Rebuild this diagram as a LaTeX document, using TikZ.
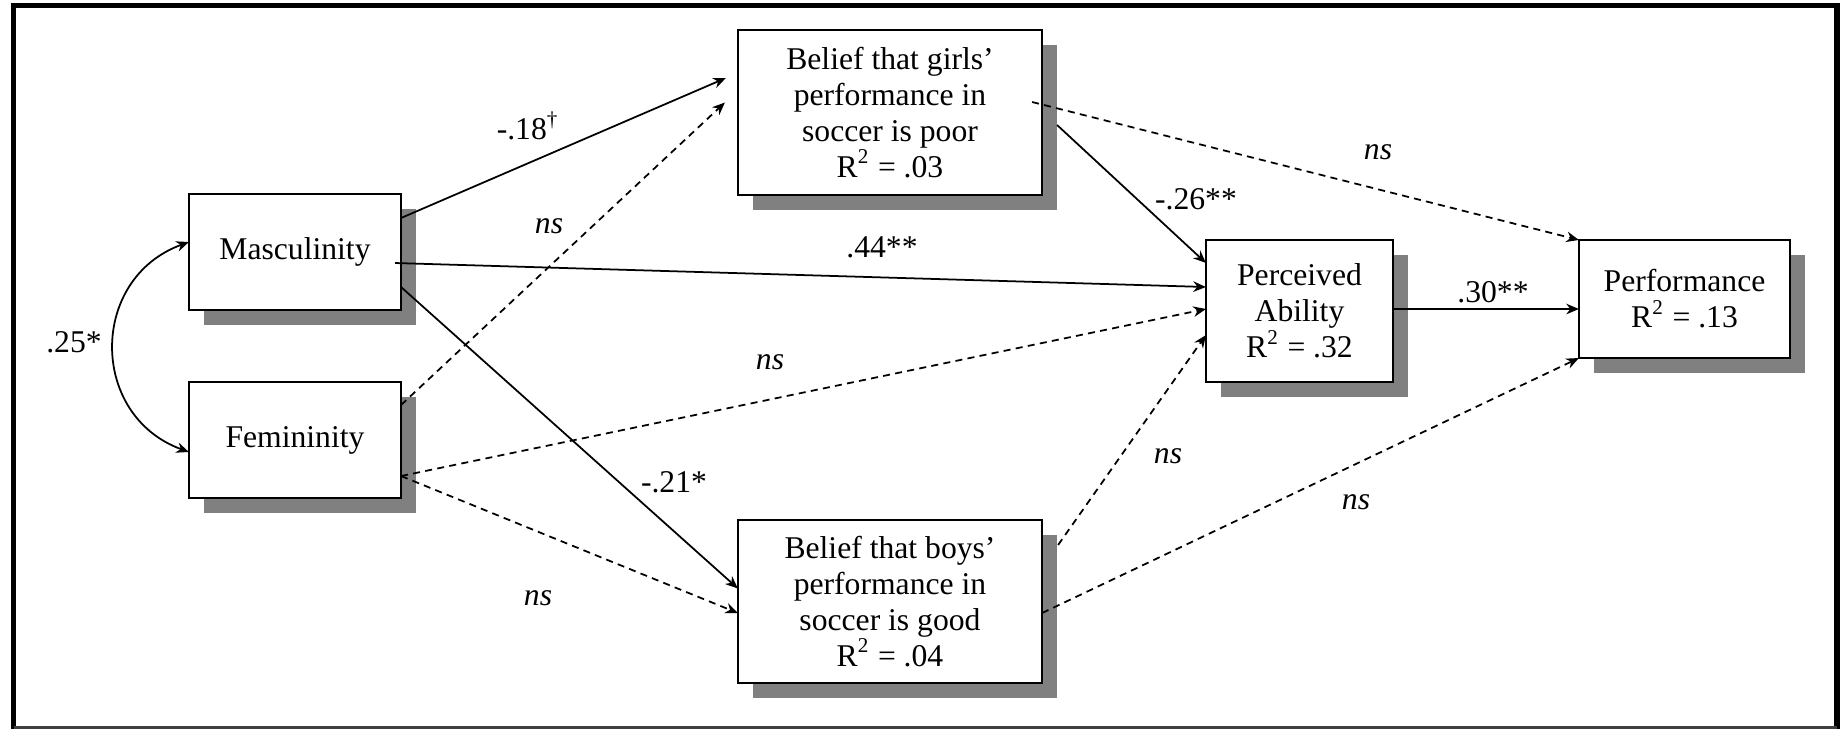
\documentclass[tikz,border=0pt]{standalone}
\usepackage{fontspec}
\setmainfont{Liberation Serif}
\usepackage{tikz}
\usetikzlibrary{arrows.meta,shadows}
\definecolor{ShadowGray}{HTML}{808080}
\definecolor{FrameGray}{HTML}{404040}

\begin{document}
\begin{tikzpicture}[x=0.01cm,y=-0.01cm, every node/.style={font=\fontsize{9}{10.2}\selectfont},
  varbox/.style={draw, line width=0.6pt, fill=white, inner sep=0pt, outer sep=0pt, align=center,
    drop shadow={shadow xshift=0.15cm, shadow yshift=-0.15cm, fill=ShadowGray, opacity=1}},
  solidpath/.style={line width=0.5pt, -{Stealth[length=3.6pt,width=3pt]}},
  nspath/.style={solidpath, dash pattern=on 2pt off 1.5pt}]
  \useasboundingbox (0,0) rectangle (1841,729);
  \draw[line width=1.45pt] (13.5,729) -- (13.5,5.5) -- (1837,5.5) -- (1837,729);
  \draw[line width=0.6pt, FrameGray] (13.5,727.5) -- (1837,727.5);
  \node[varbox, minimum width=2.12cm, minimum height=1.16cm] (masc) at (295,252) {Masculinity};
  \node[varbox, minimum width=2.12cm, minimum height=1.16cm] (fem) at (295,440) {Femininity};
  \node[varbox, minimum width=3.04cm, minimum height=1.65cm] (girls) at (890,112.5)
    {Belief that girls’\\performance in\\soccer is poor\\R\textsuperscript{2} = .03};
  \node[varbox, minimum width=3.04cm, minimum height=1.63cm] (boys) at (890,601.5)
    {Belief that boys’\\performance in\\soccer is good\\R\textsuperscript{2} = .04};
  \node[varbox, minimum width=1.87cm, minimum height=1.42cm] (pa) at (1299.5,311)
    {Perceived\\Ability\\R\textsuperscript{2} = .32};
  \node[varbox, minimum width=2.11cm, minimum height=1.18cm] (perf) at (1684.5,299)
    {Performance\\R\textsuperscript{2} = .13};
  \draw[line width=0.5pt, {Stealth[length=3.6pt,width=3pt]}-{Stealth[length=3.6pt,width=3pt]}]
    ([yshift=0.1cm]masc.west) to[out=200, in=160, looseness=1.3] ([yshift=-0.12cm]fem.west);
  \draw[solidpath] ([yshift=-0.24cm]masc.north east) -- ([xshift=-0.12cm,yshift=0.345cm]girls.west);
  \draw[nspath] ([yshift=-0.23cm]fem.north east) -- ([xshift=-0.13cm,yshift=0.1cm]girls.west);
  \draw[solidpath] ([xshift=-0.06cm,yshift=-0.11cm]masc.east) -- ([yshift=0.24cm]pa.west);
  \draw[nspath] ([yshift=-0.36cm]fem.east) -- ([yshift=0.02cm]pa.west);
  \draw[solidpath] ([yshift=-0.35cm]masc.east) -- ([yshift=0.13cm]boys.west);
  \draw[nspath] ([yshift=-0.36cm]fem.east) -- ([yshift=-0.115cm]boys.west);
  \draw[solidpath] ([xshift=0.15cm,yshift=-0.125cm]girls.east) -- ([yshift=0.48cm]pa.west);
  \draw[nspath] ([xshift=-0.1cm,yshift=0.105cm]girls.east) -- (perf.north west);
  \draw[nspath] ([xshift=0.16cm,yshift=-0.25cm]boys.north east) -- ([yshift=-0.24cm]pa.west);
  \draw[nspath] ([yshift=-0.115cm]boys.east) -- (perf.south west);
  \draw[solidpath] ([yshift=0.02cm]pa.east) -- ([yshift=0.02cm]perf.west |- pa.east);
  \node (cMF) at (74,342) {.25*};
  \node (cMG) at (528,126) {-.18\textsuperscript{†}};
  \node (cFG) at (549,226) {\textit{ns}};
  \node (cMA) at (882,247) {.44**};
  \node (cFA) at (770,362) {\textit{ns}};
  \node (cMB) at (674,482) {-.21*};
  \node (cFB) at (538,598) {\textit{ns}};
  \node (cGA) at (1196,199) {-.26**};
  \node (cGP) at (1378,152) {\textit{ns}};
  \node (cBA) at (1168,456) {\textit{ns}};
  \node (cBP) at (1356,502) {\textit{ns}};
  \node (cAP) at (1493,292) {.30**};
\end{tikzpicture}
\end{document}
